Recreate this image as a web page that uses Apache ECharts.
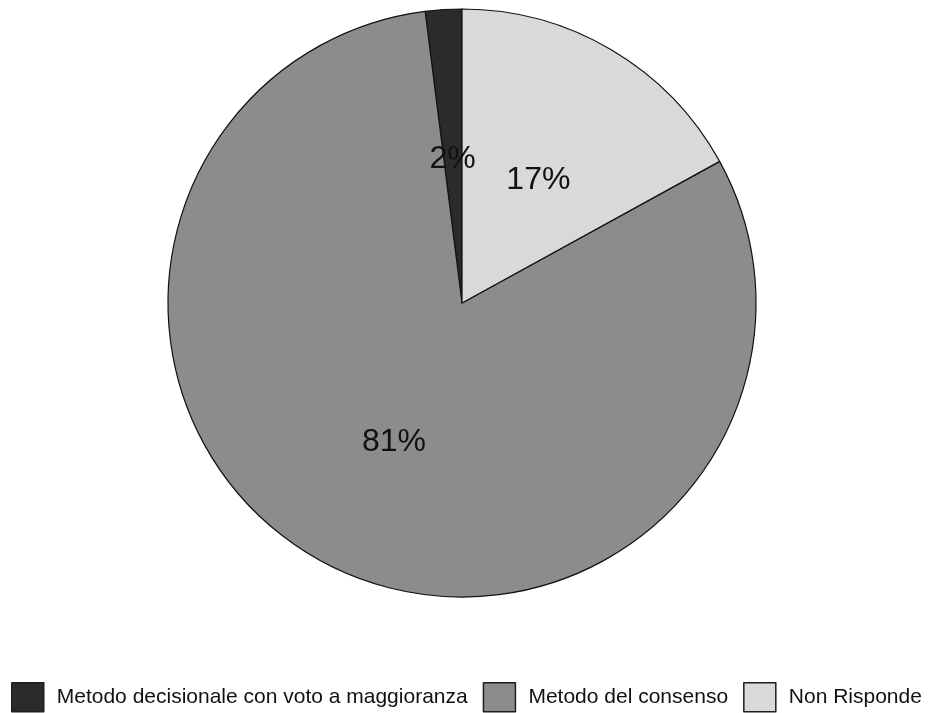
<!DOCTYPE html>
<html>
<head>
<meta charset="utf-8">
<script src="https://cdn.jsdelivr.net/npm/echarts@6/dist/echarts.min.js"></script>
<style>
  html, body { margin: 0; padding: 0; background: #fff; }
  #chart { width: 930px; height: 713px; }
</style>
</head>
<body>
<div id="chart"></div>
<script>
// Answer categories and their shares (%)
const categories = [
  'Metodo decisionale con voto a maggioranza',
  'Metodo del consenso',
  'Non Risponde'
];
const shares = [2, 81, 17];
const sliceColors = ['#2b2b2b', '#8c8c8c', '#d9d9d9'];

const chart = echarts.init(document.getElementById('chart'), null, { renderer: 'canvas' });

chart.setOption({
  animation: false,
  backgroundColor: '#ffffff',
  legend: {
    top: 682,
    left: 11,
    width: 919,
    padding: 0,
    icon: 'rect',
    itemWidth: 32,
    itemHeight: 29,
    itemGap: 15,
    itemStyle: { borderColor: '#1e1e1e', borderWidth: 1.5 },
    textStyle: {
      fontFamily: '"Liberation Sans", Arial, sans-serif',
      fontSize: 21,
      color: '#111',
      padding: [4, 0, 0, 8]
    },
    data: categories
  },
  series: [{
    type: 'pie',
    center: [462, 303],
    radius: [0, 294],
    startAngle: 90,
    clockwise: false,
    itemStyle: { borderColor: '#111', borderWidth: 1.2 },
    label: {
      position: 'inside',
      // a thin empty line above the value nudges each label slightly downward
      formatter: '{pad|}\n{val|{c}%}',
      rich: {
        pad: { height: 12, lineHeight: 12 },
        val: {
          fontFamily: '"Liberation Sans", Arial, sans-serif',
          fontSize: 32,
          color: '#111'
        }
      }
    },
    labelLine: { show: false },
    emphasis: { disabled: true },
    legendHoverLink: false,
    data: categories.map((name, i) => ({
      name,
      value: shares[i],
      itemStyle: { color: sliceColors[i] }
    }))
  }]
});
</script>
</body>
</html>
